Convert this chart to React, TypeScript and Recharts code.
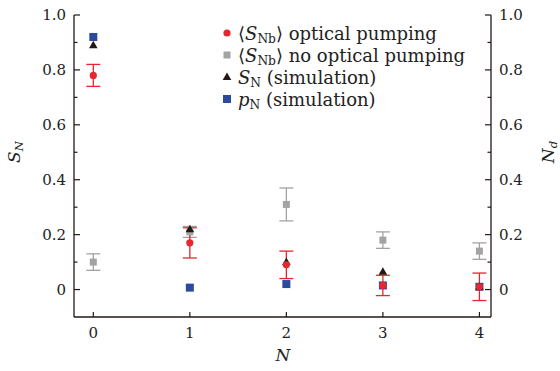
import React from "react";
import { ScatterChart, Scatter, XAxis, YAxis, ErrorBar } from "recharts";

// N = number of ... (x axis)
const nValues = [0, 1, 2, 3, 4];
const pumped = [0.78, 0.17, 0.09, 0.015, 0.01];
const pumpedErr = [0.04, 0.055, 0.05, 0.037, 0.05];
const noPump = [0.1, 0.21, 0.31, 0.18, 0.14];
const noPumpErr = [0.03, 0.02, 0.06, 0.03, 0.03];
const simS = [0.89, 0.22, 0.1, 0.065, 0.01];
const simP = [0.92, 0.007, 0.02, 0.015, 0.01];

const xTicks = [0, 1, 2, 3, 4];
const yTicks = [0, 0.1, 0.2, 0.3, 0.4, 0.5, 0.6, 0.7, 0.8, 0.9, 1.0];
const yMajor = [0, 0.2, 0.4, 0.6, 0.8, 1.0];

const RED = "#e8262d";
const GRAY = "#a3a3a3";
const BLACK = "#231815";
const BLUE = "#2c4a9b";
const FONT = "'DejaVu Serif', 'Liberation Serif', serif";

const toRows = (vals: number[], errs?: number[]) =>
  nValues.map((n, i) => ({ n, v: vals[i], e: errs ? errs[i] : 0 }));

const isMajor = (v: number) => yMajor.some((m) => Math.abs(m - v) < 1e-6);
const fmt = (v: number) => (Math.abs(v) < 1e-6 ? "0" : v.toFixed(1));

const MARGIN = 8;

function LeftTick(props: any) {
  const { x, y, payload } = props;
  const ax = x + MARGIN;
  const major = isMajor(payload.value);
  return (
    <g>
      <line x1={ax} x2={ax + (major ? 6 : 3.5)} y1={y} y2={y} stroke={BLACK} strokeWidth={1.2} />
      {major && (
        <text x={x} y={y} dy="0.36em" textAnchor="end" fontFamily={FONT} fontSize={15} fill="#222">
          {fmt(payload.value)}
        </text>
      )}
    </g>
  );
}

function RightTick(props: any) {
  const { x, y, payload } = props;
  const ax = x - MARGIN;
  const major = isMajor(payload.value);
  return (
    <g>
      <line x1={ax} x2={ax - (major ? 6 : 3.5)} y1={y} y2={y} stroke={BLACK} strokeWidth={1.2} />
      {major && (
        <text x={x} y={y} dy="0.36em" textAnchor="start" fontFamily={FONT} fontSize={15} fill="#222">
          {fmt(payload.value)}
        </text>
      )}
    </g>
  );
}

function BottomTick(props: any) {
  const { x, y, payload } = props;
  const ay = y - MARGIN;
  return (
    <g>
      <line x1={x} x2={x} y1={ay} y2={ay - 5} stroke={BLACK} strokeWidth={1.2} />
      <text x={x} y={y} dy="0.85em" textAnchor="middle" fontFamily={FONT} fontSize={15} fill="#222">
        {payload.value}
      </text>
    </g>
  );
}

const circleShape = (p: any) => <circle cx={p.cx} cy={p.cy} r={3.6} fill={RED} />;
const graySquare = (p: any) => <rect x={p.cx - 3.5} y={p.cy - 3.5} width={7} height={7} fill={GRAY} />;
const blueSquare = (p: any) => <rect x={p.cx - 4} y={p.cy - 4} width={8} height={8} fill={BLUE} />;
const triangle = (p: any) => (
  <polygon points={`${p.cx},${p.cy - 4.5} ${p.cx + 4.3},${p.cy + 3} ${p.cx - 4.3},${p.cy + 3}`} fill={BLACK} />
);

function LegendMarker({ kind }: { kind: string }) {
  return (
    <svg width={10} height={10} style={{ marginRight: 6, flex: "none" }}>
      {kind === "circle" && <circle cx={5} cy={5} r={3.6} fill={RED} />}
      {kind === "gray" && <rect x={1.5} y={1.5} width={7} height={7} fill={GRAY} />}
      {kind === "tri" && <polygon points="5,0.5 9.3,8 0.7,8" fill={BLACK} />}
      {kind === "blue" && <rect x={1} y={1} width={8} height={8} fill={BLUE} />}
    </svg>
  );
}

const subStyle: React.CSSProperties = { fontSize: "0.68em", position: "relative", top: "0.3em", fontStyle: "normal" };
const rowStyle: React.CSSProperties = { display: "flex", alignItems: "center", height: 22 };

export default function App() {
  const axisLine = { stroke: BLACK, strokeWidth: 1.3 };
  return (
    <div style={{ position: "absolute", left: 0, top: 0, width: 560, height: 371, background: "#fff" }}>
      <ScatterChart width={560} height={371} margin={{ top: 15, right: 14, bottom: 24, left: 14 }}>
        <XAxis
          xAxisId={0}
          type="number"
          dataKey="n"
          domain={[-0.2, 4.12]}
          ticks={xTicks}
          allowDataOverflow
          height={30}
          tickSize={0}
          tickMargin={MARGIN}
          tickLine={false}
          axisLine={axisLine}
          tick={<BottomTick />}
        />
        <XAxis
          xAxisId="top"
          orientation="top"
          type="number"
          domain={[-0.2, 4.12]}
          height={0}
          tick={false}
          tickLine={false}
          axisLine={axisLine}
        />
        <YAxis
          yAxisId={0}
          type="number"
          dataKey="v"
          domain={[-0.1, 1.0]}
          ticks={yTicks}
          allowDataOverflow
          width={60}
          tickSize={0}
          tickMargin={MARGIN}
          tickLine={false}
          axisLine={axisLine}
          tick={<LeftTick />}
          interval={0}
        />
        <YAxis
          yAxisId="right"
          orientation="right"
          type="number"
          domain={[-0.1, 1.0]}
          ticks={yTicks}
          allowDataOverflow
          width={55}
          tickSize={0}
          tickMargin={MARGIN}
          tickLine={false}
          axisLine={axisLine}
          tick={<RightTick />}
          interval={0}
        />
        <Scatter data={toRows(noPump, noPumpErr)} dataKey="v" shape={graySquare} isAnimationActive={false}>
          <ErrorBar dataKey="e" direction="y" width={7} stroke={GRAY} strokeWidth={1.3} />
        </Scatter>
        <Scatter data={toRows(simP)} dataKey="v" shape={blueSquare} isAnimationActive={false} />
        <Scatter data={toRows(simS)} dataKey="v" shape={triangle} isAnimationActive={false} />
        <Scatter data={toRows(pumped, pumpedErr)} dataKey="v" shape={circleShape} isAnimationActive={false}>
          <ErrorBar dataKey="e" direction="y" width={7} stroke={RED} strokeWidth={1.3} />
        </Scatter>
      </ScatterChart>

      {/* legend */}
      <div style={{ position: "absolute", left: 222, top: 22, fontFamily: FONT, fontSize: 18, color: "#222" }}>
        <div style={rowStyle}>
          <LegendMarker kind="circle" />
          <span>⟨<i>S</i><span style={subStyle}>Nb</span>⟩ optical pumping</span>
        </div>
        <div style={rowStyle}>
          <LegendMarker kind="gray" />
          <span>⟨<i>S</i><span style={subStyle}>Nb</span>⟩ no optical pumping</span>
        </div>
        <div style={rowStyle}>
          <LegendMarker kind="tri" />
          <span><i>S</i><span style={subStyle}>N</span> (simulation)</span>
        </div>
        <div style={rowStyle}>
          <LegendMarker kind="blue" />
          <span><i>p</i><span style={subStyle}>N</span> (simulation)</span>
        </div>
      </div>

      {/* axis titles */}
      <div style={{ position: "absolute", left: 14, top: 152, transform: "translate(-50%, -50%) rotate(-90deg)", fontFamily: FONT, fontSize: 17, color: "#222", whiteSpace: "nowrap" }}>
        <i>S</i><i style={{ ...subStyle, fontStyle: "italic" }}>N</i>
      </div>
      <div style={{ position: "absolute", left: 548, top: 152, transform: "translate(-50%, -50%) rotate(-90deg)", fontFamily: FONT, fontSize: 17, color: "#222", whiteSpace: "nowrap" }}>
        <i>N</i><i style={{ ...subStyle, fontStyle: "italic" }}>d</i>
      </div>
      <div style={{ position: "absolute", left: 283, top: 355, transform: "translate(-50%, -50%)", fontFamily: FONT, fontSize: 17, color: "#222" }}>
        <i>N</i>
      </div>
    </div>
  );
}
